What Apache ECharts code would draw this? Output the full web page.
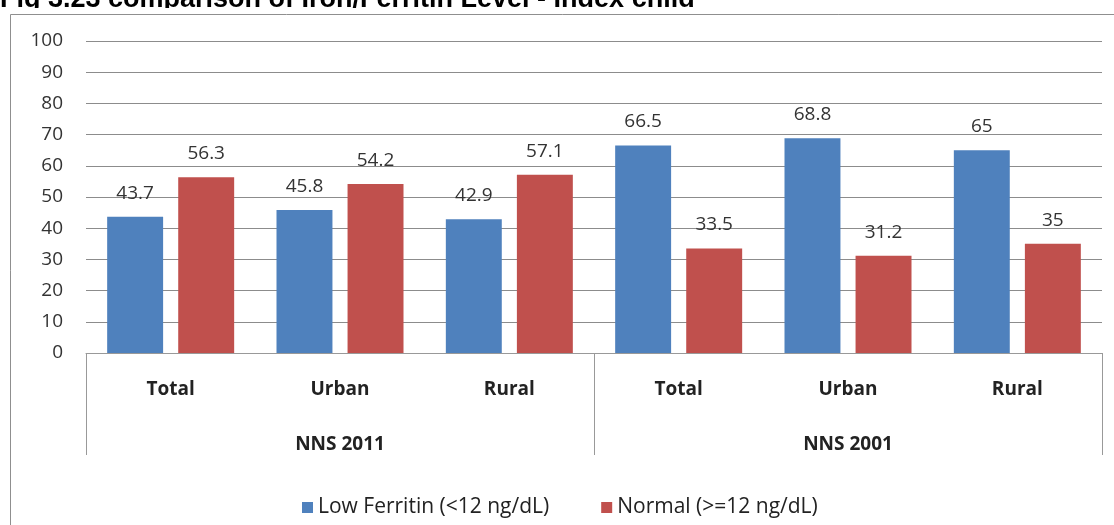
<!DOCTYPE html>
<html>
<head>
<meta charset="utf-8">
<script src="https://cdn.jsdelivr.net/npm/echarts@6/dist/echarts.min.js"></script>
<style>
html,body{margin:0;padding:0;background:#fff;}
#chart{width:1114px;height:525px;}
</style>
</head>
<body>
<div id="chart"></div>
<script>
const titleText = 'Fig 3.23 comparison of Iron/Ferritin Level - Index child';
const categories = ['Total', 'Urban', 'Rural', 'Total', 'Urban', 'Rural'];
const groups = ['NNS 2011', 'NNS 2001'];
const seriesNames = ['Low Ferritin (<12 ng/dL)', 'Normal (>=12 ng/dL)'];
const lowFerritin = [43.7, 45.8, 42.9, 66.5, 68.8, 65];
const normal = [56.3, 54.2, 57.1, 33.5, 31.2, 35];
const yMin = 0, yMax = 100, yInterval = 10;

const FONT = '"Open Sans", Lato, sans-serif';
const chart = echarts.init(document.getElementById('chart'), null, {renderer: 'canvas'});
const labelStyle = {show: true, position: 'top', distance: 14, fontSize: 19, color: '#333', fontFamily: FONT};
chart.setOption({
  animation: false,
  backgroundColor: '#fff',
  graphic: [
    {type: 'text', left: 0, top: -14, z: 10,
     style: {text: titleText, font: 'bold 27px "Liberation Sans", Arial, sans-serif', fill: '#000'}},
    {type: 'rect', shape: {x: 0, y: 8, width: 1114, height: 7}, z: 11,
     style: {fill: '#fff'}, silent: true},
    {type: 'rect', shape: {x: 10.5, y: 14.5, width: 1300, height: 700}, z: 12,
     style: {fill: 'none', stroke: '#8f8f8f', lineWidth: 1}, silent: true}
  ],
  legend: {
    left: 297, top: 492, itemWidth: 11, itemHeight: 11, itemGap: 52,
    icon: 'rect',
    textStyle: {fontSize: 21, color: '#222', fontFamily: FONT},
    data: seriesNames
  },
  grid: {left: 86, right: 12, top: 41, bottom: 172},
  xAxis: [
    {type: 'category', data: categories, position: 'bottom',
     axisLine: {show: true, lineStyle: {color: '#999', width: 1}},
     axisTick: {show: false},
     axisLabel: {margin: 27, fontSize: 19, fontWeight: 'bold', color: '#222', fontFamily: FONT}},
    {type: 'category', data: groups, position: 'bottom', offset: 0,
     axisLine: {show: false},
     axisTick: {show: true, length: 102, lineStyle: {color: '#999', width: 1}},
     axisLabel: {margin: 82, fontSize: 19, fontWeight: 'bold', color: '#222', fontFamily: FONT}}
  ],
  yAxis: {
    type: 'value', min: yMin, max: yMax, interval: yInterval,
    axisLine: {show: false}, axisTick: {show: false},
    splitLine: {lineStyle: {color: '#8c8c8c', width: 1}},
    axisLabel: {margin: 23, fontSize: 19, color: '#333', fontFamily: FONT}
  },
  series: [
    {name: seriesNames[0], type: 'bar', xAxisIndex: 0, data: lowFerritin,
     itemStyle: {color: '#4F81BD'}, barGap: '27%', barCategoryGap: '25%', label: labelStyle},
    {name: seriesNames[1], type: 'bar', xAxisIndex: 0, data: normal,
     itemStyle: {color: '#C0504D'}, label: labelStyle}
  ]
});
</script>
</body>
</html>
